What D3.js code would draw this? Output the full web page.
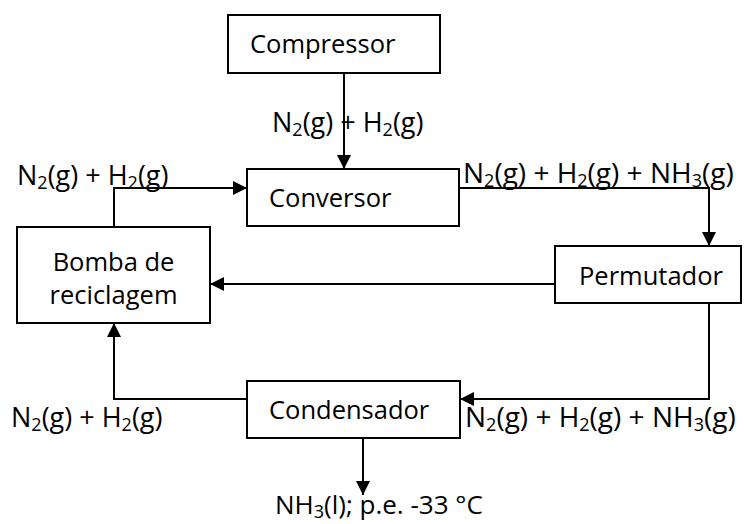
<!DOCTYPE html>
<html>
<head>
<meta charset="utf-8">
<script src="https://cdn.jsdelivr.net/npm/d3@7"></script>
<style>
  body { margin: 0; background: #fff; }
  svg text { font-family: "Open Sans", sans-serif; fill: #000; }
</style>
</head>
<body>
<svg width="744" height="524"></svg>
<script>
// names of the process units
var units = ["Compressor", "Conversor", "Bomba de|reciclagem", "Permutador", "Condensador"];
// stream labels ("_" marks a subscript digit)
var streams = ["N_2(g) + H_2(g)", "N_2(g) + H_2(g)", "N_2(g) + H_2(g) + NH_3(g)",
               "N_2(g) + H_2(g)", "N_2(g) + H_2(g) + NH_3(g)", "NH_3(l); p.e. -33 °C"];

var svg = d3.select("svg");

// layout of the boxes (x0, y0, x1, y1) and text anchor
var box = {
    "Compressor": [228, 15, 440, 73],
    "Conversor": [247, 169, 459, 226],
    "Bomba de|reciclagem": [17, 227, 210, 323],
    "Permutador": [555, 246, 741, 303],
    "Condensador": [247, 381, 460, 438]
};
var boxText = {
    "Compressor": [250, 53],
    "Conversor": [269, 207],
    "Permutador": [579, 285],
    "Condensador": [269, 419]
};

// arrowhead
svg.append("defs").append("marker")
    .attr("id", "head")
    .attr("viewBox", "0 0 10 10")
    .attr("refX", 10).attr("refY", 5)
    .attr("markerWidth", 15).attr("markerHeight", 14)
    .attr("markerUnits", "userSpaceOnUse")
    .attr("orient", "auto")
    .append("path")
    .attr("d", "M0,0L10,5L0,10Z")
    .attr("fill", "#000");

// boxes
svg.append("g").selectAll("rect")
    .data(units)
    .enter()
    .append("rect")
    .attr("x", function (d) { return box[d][0] })
    .attr("y", function (d) { return box[d][1] })
    .attr("width", function (d) { return box[d][2] - box[d][0] })
    .attr("height", function (d) { return box[d][3] - box[d][1] })
    .attr("fill", "#fff")
    .attr("stroke", "#000")
    .attr("stroke-width", 2)

svg.append("g").selectAll("text")
    .data(units)
    .enter()
    .append("text")
    .style("font-size", "25.5px")
    .each(function (d) {
        var t = d3.select(this);
        if (d.indexOf("|") >= 0) {
            var b = box[d], cx = (b[0] + b[2]) / 2;
            t.attr("text-anchor", "middle");
            d.split("|").forEach(function (line, i) {
                t.append("tspan").attr("x", cx).attr("y", [271, 304][i]).text(line);
            });
        } else {
            t.attr("x", boxText[d][0]).attr("y", boxText[d][1]).text(d);
        }
    })

// flow lines
var line = d3.line();
var flows = [
    [[344, 73], [344, 169]],
    [[114, 227], [114, 188], [247, 188]],
    [[459, 188], [709, 188], [709, 246]],
    [[555, 284], [210, 284]],
    [[709, 303], [709, 399], [460, 399]],
    [[247, 399], [114, 399], [114, 323]],
    [[363, 438], [363, 495]]
];
svg.append("g").selectAll("path")
    .data(flows)
    .enter()
    .append("path")
    .attr("d", function (d) { return line(d) })
    .attr("fill", "none")
    .attr("stroke", "#000")
    .attr("stroke-width", 2)
    .attr("marker-end", "url(#head)")

// stream labels
var labelPos = [[272, 132], [17, 185], [463, 183], [11, 427], [465, 427], [275, 514]];
var labelSize = [27, 27, 28, 27, 28, 26];
svg.append("g").selectAll("text")
    .data(streams)
    .enter()
    .append("text")
    .attr("x", function (d, i) { return labelPos[i][0] })
    .attr("y", function (d, i) { return labelPos[i][1] })
    .style("font-size", function (d, i) { return labelSize[i] + "px" })
    .each(function (d) {
        var t = d3.select(this), shift = 0;
        d.split(/(_\d)/).forEach(function (part) {
            if (!part) return;
            if (part[0] === "_") {
                t.append("tspan").attr("dy", 4).style("font-size", "18px").text(part.slice(1));
                shift = -4;
            } else {
                t.append("tspan").attr("dy", shift).text(part);
                shift = 0;
            }
        });
    })
</script>
</body>
</html>
